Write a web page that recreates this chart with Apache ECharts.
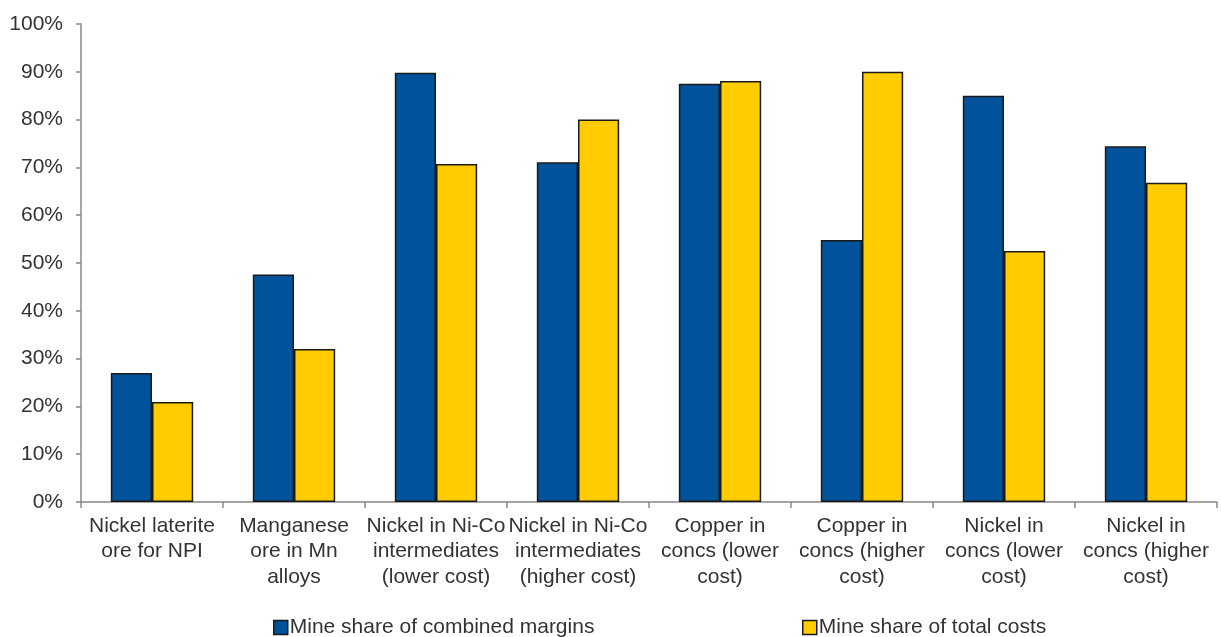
<!DOCTYPE html>
<html>
<head>
<meta charset="utf-8">
<script src="https://cdn.jsdelivr.net/npm/echarts@6/dist/echarts.min.js"></script>
<style>
  html, body { margin: 0; padding: 0; background: #fff; }
  #chart { width: 1221px; height: 637px; }
</style>
</head>
<body>
<div id="chart"></div>
<script>
// categories and values (percent)
const categories = [
  'Nickel laterite\nore for NPI',
  'Manganese\nore in Mn\nalloys',
  'Nickel in Ni-Co\nintermediates\n(lower cost)',
  'Nickel in Ni-Co\nintermediates\n(higher cost)',
  'Copper in\nconcs (lower\ncost)',
  'Copper in\nconcs (higher\ncost)',
  'Nickel in\nconcs (lower\ncost)',
  'Nickel in\nconcs (higher\ncost)'
]
const marginShare = [27, 47.6, 89.8, 71.1, 87.5, 54.8, 85.0, 74.4]
const costShare = [20.9, 32.0, 70.7, 80.0, 88.1, 90.0, 52.5, 66.8]
const seriesNames = ['Mine share of combined margins', 'Mine share of total costs']

const fontFam = 'Liberation Sans, Arial, sans-serif'
const chart = echarts.init(document.getElementById('chart'))

function legendAt(name, left) {
  return {
    data: [name],
    left: left, top: 612,
    icon: 'rect', itemWidth: 14, itemHeight: 14,
    itemGap: 0,
    itemStyle: { borderColor: '#1a1a1a', borderWidth: 1.5 },
    textStyle: { fontFamily: fontFam, fontSize: 21, color: '#333', padding: [0, 0, 0, -3] }
  }
}

chart.setOption({
  animation: false,
  color: ['#00529B', '#FFCC00'],
  grid: { left: 81, right: 4, top: 24, bottom: 135 },
  legend: [legendAt(seriesNames[0], 268), legendAt(seriesNames[1], 797)],
  xAxis: {
    type: 'category',
    data: categories,
    axisLine: { lineStyle: { color: '#888', width: 1.5 } },
    axisTick: { show: true, length: 6, lineStyle: { color: '#888', width: 1.5 } },
    axisLabel: {
      interval: 0,
      margin: 11,
      fontFamily: fontFam, fontSize: 21, color: '#333',
      lineHeight: 25.5
    }
  },
  yAxis: {
    type: 'value',
    min: 0, max: 100, interval: 10,
    axisLine: { show: true, lineStyle: { color: '#888', width: 1.5 } },
    axisTick: { show: true, length: 5, lineStyle: { color: '#888', width: 1.5 } },
    splitLine: { show: false },
    axisLabel: {
      margin: 18,
      formatter: '{value}%',
      fontFamily: fontFam, fontSize: 21, color: '#333'
    }
  },
  series: [
    {
      name: seriesNames[0],
      type: 'bar',
      data: marginShare,
      barGap: '0%',
      barCategoryGap: '42%',
      itemStyle: { borderColor: '#1a1a1a', borderWidth: 1.5 }
    },
    {
      name: seriesNames[1],
      type: 'bar',
      data: costShare,
      itemStyle: { borderColor: '#1a1a1a', borderWidth: 1.5 }
    }
  ]
})
</script>
</body>
</html>
